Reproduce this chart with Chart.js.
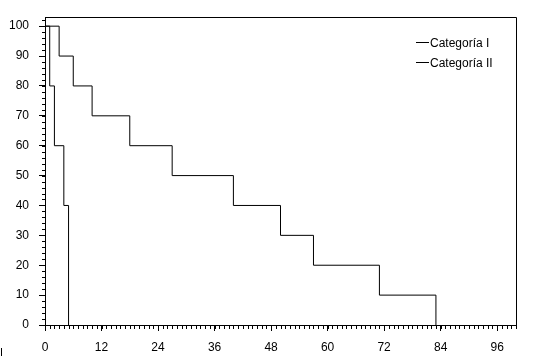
<!DOCTYPE html>
<html>
<head>
<meta charset="utf-8">
<script src="https://cdn.jsdelivr.net/npm/chart.js@4"></script>
<style>
html,body{margin:0;padding:0;background:#fff;}
#wrap{width:541px;height:362px;}
</style>
</head>
<body>
<div id="wrap"><canvas id="c" width="541" height="362"></canvas></div>
<script>
// Data (time, survival %)
const catITimes = [0, 3, 6, 10, 18, 27, 40, 50, 57, 71, 83];
const catIValues = [100, 90, 80, 70, 60, 50, 40, 30, 20, 10, 0];
const catIITimes = [0, 1, 2, 4, 5];
const catIIValues = [100, 80, 60, 40, 0];
const seriesLabels = ['Categoría I', 'Categoría II'];
const xTickStep = 12;
const yTickStep = 10;

const FONT = {family: '"Liberation Sans", Arial, Helvetica, sans-serif', size: 12};
Chart.defaults.color = '#000';
Chart.defaults.font = FONT;

const toPts = (t, v) => t.map((x, i) => ({x: x, y: v[i]}));

const framePlugin = {
  id: 'frame',
  afterDraw(chart) {
    const ctx = chart.ctx;
    const a = chart.chartArea;
    const xs = chart.scales.x, ys = chart.scales.y;
    ctx.save();
    ctx.strokeStyle = '#000';
    ctx.lineWidth = 1;
    // frame top & right
    ctx.beginPath();
    ctx.moveTo(Math.round(a.left) + 0.5, Math.round(a.top) + 0.5);
    ctx.lineTo(Math.round(a.right) + 0.5, Math.round(a.top) + 0.5);
    ctx.lineTo(Math.round(a.right) + 0.5, Math.round(a.bottom) + 0.5);
    ctx.stroke();
    // minor ticks x
    ctx.beginPath();
    for (let v = xs.min; v <= xs.max; v += 1) {
      const px = Math.round(xs.getPixelForValue(v)) + 0.5;
      ctx.moveTo(px, Math.round(a.bottom));
      ctx.lineTo(px, Math.round(a.bottom) + 4);
    }
    // minor ticks y
    for (let v = 0; v <= ys.max; v += 2) {
      const py = Math.round(ys.getPixelForValue(v)) + 0.5;
      ctx.moveTo(Math.round(a.left) + 1, py);
      ctx.lineTo(Math.round(a.left) - 3, py);
    }
    ctx.stroke();
    // legend
    const lx = a.right - 100;
    const ly = [a.top + 25, a.top + 45];
    ctx.font = '12px ' + FONT.family;
    ctx.fillStyle = '#000';
    ctx.textBaseline = 'middle';
    ctx.textAlign = 'left';
    chart.data.datasets.forEach((ds, i) => {
      ctx.beginPath();
      ctx.moveTo(lx, Math.round(ly[i]) + 0.5);
      ctx.lineTo(lx + 13, Math.round(ly[i]) + 0.5);
      ctx.stroke();
      ctx.fillText(ds.label, lx + 14, ly[i] + 1);
    });
    // stray mark bottom-left
    ctx.fillRect(1, 348, 1, 8);
    ctx.restore();
  }
};

new Chart(document.getElementById('c'), {
  type: 'line',
  data: {
    datasets: [
      {label: seriesLabels[0], data: toPts(catITimes, catIValues), stepped: 'before',
       borderColor: '#000', borderWidth: 1, pointRadius: 0, fill: false},
      {label: seriesLabels[1], data: toPts(catIITimes, catIIValues), stepped: 'before',
       borderColor: '#000', borderWidth: 1, pointRadius: 0, fill: false}
    ]
  },
  options: {
    responsive: false,
    animation: false,
    events: [],
    layout: {padding: {left: 0, right: 25, top: 16, bottom: 0}},
    plugins: {legend: {display: false}, tooltip: {enabled: false}},
    scales: {
      x: {
        type: 'linear', min: 0, max: 100,
        ticks: {stepSize: xTickStep, includeBounds: false, padding: 9, color: '#000', maxRotation: 0, autoSkip: false},
        grid: {drawOnChartArea: false, tickLength: 6, color: '#000'},
        border: {display: true, color: '#000'},
        afterFit(s) { s.height = 37; }
      },
      y: {
        type: 'linear', min: 0, max: 103,
        ticks: {stepSize: yTickStep, includeBounds: false, padding: 10, color: '#000'},
        grid: {drawOnChartArea: false, tickLength: 6, color: '#000'},
        border: {display: true, color: '#000'},
        afterFit(s) { s.width = 45; }
      }
    }
  },
  plugins: [framePlugin]
});
</script>
</body>
</html>
